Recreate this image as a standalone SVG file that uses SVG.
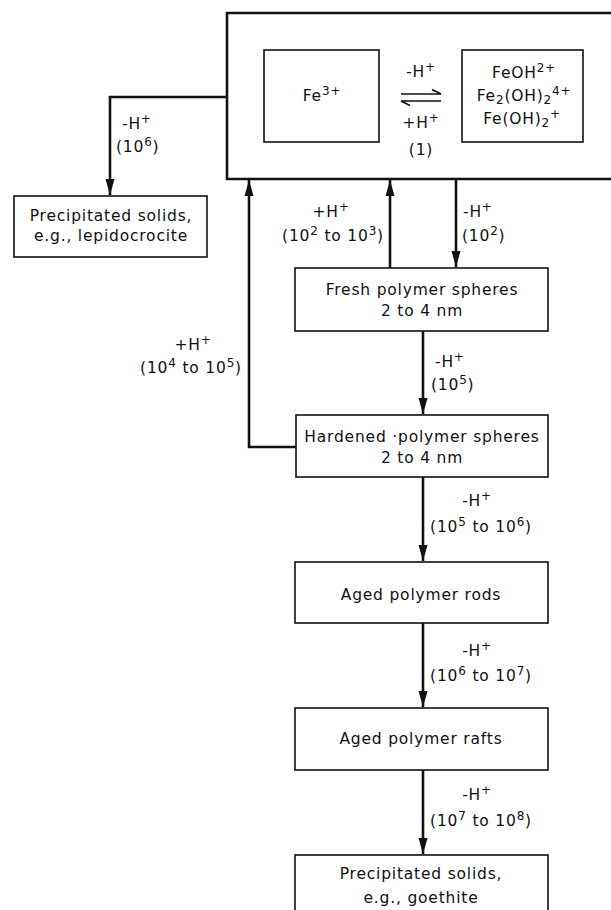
<svg xmlns="http://www.w3.org/2000/svg" width="611" height="910" viewBox="0 0 611 910">
<style>
text{font-family:"DejaVu Sans","Liberation Sans",sans-serif;font-size:15.5px;fill:#111;letter-spacing:0.8px}
.m{text-anchor:middle}
.s{font-size:12px}
.box{fill:#fff;stroke:#111;stroke-width:1.6}
.big{fill:none;stroke:#111;stroke-width:2.6}
.c{fill:none;stroke:#111;stroke-width:2.6}
.h{fill:none;stroke:#111;stroke-width:1.6}
</style>
<defs>
<marker id="ah" viewBox="0 0 16 10" refX="16" refY="5" markerWidth="16" markerHeight="10" markerUnits="userSpaceOnUse" orient="auto">
<path d="M0,0.5 L16,5 L0,9.5 Z" fill="#111"/>
</marker>
</defs>

<g id="system">
<path class="big" d="M613,13 H227 V179 H613"/>
</g>
<g id="fe3">
<rect class="box" x="264" y="50" width="115" height="92"/>
<text class="m" x="322" y="101">Fe<tspan class="s" dy="-6">3+</tspan></text>
</g>
<g id="equilibrium">
<path class="h" d="M401,94 H441 L432,89.5"/>
<path class="h" d="M441,101 H401 L410,105.5"/>
<text class="m" x="421" y="77">-H<tspan class="s" dy="-6">+</tspan></text>
<text class="m" x="421" y="128">+H<tspan class="s" dy="-6">+</tspan></text>
<text class="m" x="421" y="155">(1)</text>
</g>
<g id="hydroxo">
<rect class="box" x="462" y="50" width="121" height="92"/>
<text class="m" x="524" y="78">FeOH<tspan class="s" dy="-6">2+</tspan></text>
<text class="m" x="524" y="101">Fe<tspan class="s" dy="3">2</tspan><tspan dy="-3">(OH)</tspan><tspan class="s" dy="3">2</tspan><tspan class="s" dy="-9">4+</tspan></text>
<text class="m" x="522" y="124">Fe(OH)<tspan class="s" dy="3">2</tspan><tspan class="s" dy="-9">+</tspan></text>
</g>
<g id="lepidocrocite">
<rect class="box" x="14" y="196" width="193" height="61"/>
<text class="m" x="111" y="221">Precipitated solids,</text>
<text class="m" x="111" y="241">e.g., lepidocrocite</text>
</g>
<g id="fresh">
<rect class="box" x="295" y="268" width="253" height="63"/>
<text class="m" x="422" y="295">Fresh polymer spheres</text>
<text class="m" x="422" y="316">2 to 4 nm</text>
</g>
<g id="hardened">
<rect class="box" x="296" y="415" width="252" height="62"/>
<text class="m" x="422" y="442">Hardened ·polymer spheres</text>
<text class="m" x="422" y="463">2 to 4 nm</text>
</g>
<g id="rods">
<rect class="box" x="295" y="562" width="253" height="61"/>
<text class="m" x="421" y="600">Aged polymer rods</text>
</g>
<g id="rafts">
<rect class="box" x="295" y="708" width="253" height="62"/>
<text class="m" x="421" y="744">Aged polymer rafts</text>
</g>
<g id="goethite">
<rect class="box" x="295" y="855" width="253" height="60"/>
<text class="m" x="421" y="879">Precipitated solids,</text>
<text class="m" x="421" y="903">e.g., goethite</text>
</g>

<g id="connectors">
<path class="c" d="M227,97 H110 V195" marker-end="url(#ah)"/>
<path class="c" d="M390,268 V180" marker-end="url(#ah)"/>
<path class="c" d="M456,179 V267" marker-end="url(#ah)"/>
<path class="c" d="M423,331 V414" marker-end="url(#ah)"/>
<path class="c" d="M296,447 H249 V180" marker-end="url(#ah)"/>
<path class="c" d="M423,477 V561" marker-end="url(#ah)"/>
<path class="c" d="M423,623 V707" marker-end="url(#ah)"/>
<path class="c" d="M423,770 V854" marker-end="url(#ah)"/>
</g>

<g id="labels">
<text x="122" y="129">-H<tspan class="s" dy="-6">+</tspan></text>
<text x="116" y="152">(10<tspan class="s" dy="-6">6</tspan><tspan dy="6">)</tspan></text>
<text class="m" x="331" y="217">+H<tspan class="s" dy="-6">+</tspan></text>
<text class="m" x="333" y="241">(10<tspan class="s" dy="-6">2</tspan><tspan dy="6"> to 10</tspan><tspan class="s" dy="-6">3</tspan><tspan dy="6">)</tspan></text>
<text x="463" y="217">-H<tspan class="s" dy="-6">+</tspan></text>
<text x="462" y="241">(10<tspan class="s" dy="-6">2</tspan><tspan dy="6">)</tspan></text>
<text x="435" y="367">-H<tspan class="s" dy="-6">+</tspan></text>
<text x="431" y="390">(10<tspan class="s" dy="-6">5</tspan><tspan dy="6">)</tspan></text>
<text class="m" x="193" y="350">+H<tspan class="s" dy="-6">+</tspan></text>
<text class="m" x="191" y="373">(10<tspan class="s" dy="-6">4</tspan><tspan dy="6"> to 10</tspan><tspan class="s" dy="-6">5</tspan><tspan dy="6">)</tspan></text>
<text class="m" x="477" y="506">-H<tspan class="s" dy="-6">+</tspan></text>
<text class="m" x="481" y="532">(10<tspan class="s" dy="-6">5</tspan><tspan dy="6"> to 10</tspan><tspan class="s" dy="-6">6</tspan><tspan dy="6">)</tspan></text>
<text class="m" x="477" y="656">-H<tspan class="s" dy="-6">+</tspan></text>
<text class="m" x="481" y="681">(10<tspan class="s" dy="-6">6</tspan><tspan dy="6"> to 10</tspan><tspan class="s" dy="-6">7</tspan><tspan dy="6">)</tspan></text>
<text class="m" x="477" y="800">-H<tspan class="s" dy="-6">+</tspan></text>
<text class="m" x="481" y="826">(10<tspan class="s" dy="-6">7</tspan><tspan dy="6"> to 10</tspan><tspan class="s" dy="-6">8</tspan><tspan dy="6">)</tspan></text>
</g>
</svg>
